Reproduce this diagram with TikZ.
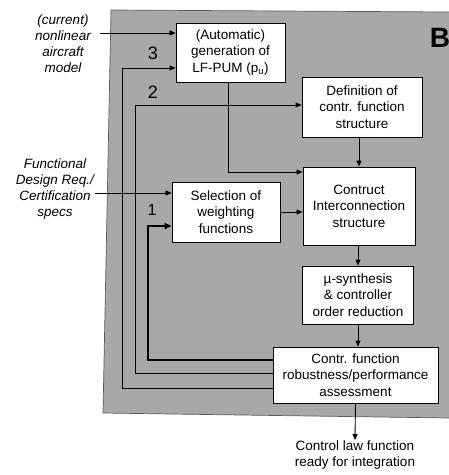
\documentclass[tikz,border=0pt]{standalone}
\usepackage{fontspec}
\setmainfont{Liberation Sans}
\usetikzlibrary{arrows.meta}
\definecolor{bggray}{RGB}{168,168,168}
\definecolor{bgedge}{RGB}{90,90,90}
\tikzset{
  box/.style={draw=black, fill=white, line width=0.8pt, align=center,
    font=\fontsize{13.5}{16.5}\selectfont, inner sep=0pt},
  lbl/.style={align=center, font=\itshape\fontsize{13.5}{16}\selectfont},
  arr/.style={-{Triangle[length=6pt,width=5pt]}, line width=0.9pt},
  thickarr/.style={-{Triangle[length=7pt,width=6pt]}, line width=1.7pt},
  num/.style={font=\fontsize{18}{18}\selectfont, inner sep=0pt},
}
\begin{document}
\begin{tikzpicture}[x=1pt, y=-1pt]
\useasboundingbox (0,0) rectangle (449,475);
% background panel
\fill[bggray] (111,10) -- (449,12) -- (449,418) -- (103,413) -- cycle;
\draw[bgedge, line width=0.7pt] (449,418) -- (103,413) -- (111,10) -- (449,12);
\node[font=\bfseries\fontsize{28}{28}\selectfont, inner sep=0pt] (B) at (440,38) {B};

% boxes
\node[box, minimum width=109pt, minimum height=59pt] (lfpum) at (230.5,52.5)
  {(Automatic)\\generation of\\LF-PUM (p\textsubscript{u})};
\node[box, minimum width=120pt, minimum height=60pt] (def) at (362,107)
  {Definition of\\contr. function\\structure};
\node[box, minimum width=108pt, minimum height=60pt] (sel) at (226,212)
  {Selection of\\weighting\\functions};
\node[box, minimum width=112pt, minimum height=78pt] (con) at (359,206)
  {Contruct\\Interconnection\\structure};
\node[box, minimum width=111pt, minimum height=58pt] (mu) at (358,295)
  {µ-synthesis\\\& controller\\order reduction};
\node[box, minimum width=165pt, minimum height=56pt] (rob) at (355.5,375)
  {Contr. function\\robustness/performance\\assessment};
\node[align=center, font=\fontsize{13.5}{16}\selectfont, inner sep=1pt, anchor=north] (out) at (355,440)
  {Control law function\\ready for integration};

% left labels
\node[lbl] (model) at (63,44) {(current)\\nonlinear\\aircraft\\model};
\node[lbl] (func) at (55,189) {Functional\\Design Req./\\Certification\\specs};

% numbers
\node[num] (n3) at (153,53) {3};
\node[num] (n2) at (153,92) {2};
\node[num, font=\fontsize{16}{16}\selectfont] (n1) at (152,210) {1};

% coordinates
\coordinate (m1) at (100,33);
\coordinate (f1) at (95,193);
\coordinate (l3) at (122,388);
\coordinate (l3top) at (122,68);
\coordinate (l2) at (135,373);
\coordinate (l2top) at (135,105);
\coordinate (l1) at (148,360);
\coordinate (l1top) at (148,226);
\coordinate (p1) at (228,172);

% input arrows
\draw[arr, line width=0.7pt] (m1) -- (m1 -| lfpum.west);
\draw[arr, line width=0.7pt] (f1) -- (f1 -| sel.west);

% feedback loops
\draw[arr] (rob.west |- l3) -- (l3) -- (l3top) -- (l3top -| lfpum.west);
\draw[arr] (rob.west |- l2) -- (l2) -- (l2top) -- (l2top -| def.west);
\draw[thickarr] (rob.west |- l1) -- (l1) -- (l1top) -- (l1top -| sel.west);

% forward flow
\draw[arr] (lfpum.south -| p1) -- (p1) -- (p1 -| con.west);
\draw[arr] (sel.east) -- (sel.east -| con.west);
\draw[arr] (con.north |- def.south) -- (con.north);
\draw[arr] (mu.north |- con.south) -- (mu.north);
\draw[arr] (mu.south) -- (mu.south |- rob.north);
\draw[arr] (rob.south) -- (out.north);
\end{tikzpicture}
\end{document}
